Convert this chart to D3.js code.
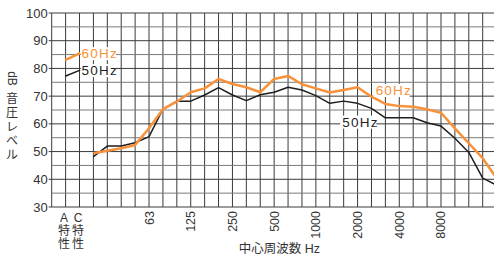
<!DOCTYPE html>
<html>
<head>
<meta charset="utf-8">
<script src="https://cdn.jsdelivr.net/npm/d3@7"></script>
<style>
  body { margin: 0; background: #fff; }
  svg text { font-family: "Liberation Sans", Arial, "Noto Sans CJK JP", sans-serif; fill: #333; }
</style>
</head>
<body>
<div id="chart"></div>
<script>
// 1/3 octave bands, index 0 is the left axis
const bands = ['', 'A', 'C', '25', '31.5', '40', '50', '63', '80', '100', '125', '160', '200', '250',
  '315', '400', '500', '630', '800', '1000', '1250', '1600', '2000', '2500', '3150', '4000',
  '5000', '6300', '8000', '10000', '12500', '16000', '20000'];
const curveBands = bands.slice(3);
const tickBands = ['63', '125', '250', '500', '1000', '2000', '4000', '8000'];
const yTicks = [30, 40, 50, 60, 70, 80, 90, 100];

const level50 = [48.2, 52, 52, 53.2, 55.4, 65.3, 68.2, 68.2, 70.4, 73.1, 70.4, 68.4, 70.5, 71.4, 73.2,
  72.2, 70.2, 67.4, 68.2, 67.4, 65.6, 62.2, 62.2, 62.2, 60.4, 59.2, 54.8, 49.7, 40.4, 37.9];
const level60 = [49.4, 50.3, 51.2, 52.4, 58.4, 65.3, 68, 71.4, 72.8, 76.2, 74.4, 73.2, 71.4, 76.2, 77.3,
  74.3, 72.8, 71.3, 72.2, 73.2, 69.8, 67.2, 66.4, 66.2, 65.3, 64, 58.4, 53, 47.6, 40.4];

const orange = '#f7923a';
const dark = '#1e1e1e';

const svg = d3.select('#chart').append('svg')
  .attr('width', 494)
  .attr('height', 260);

const x = d3.scaleLinear().domain([0, bands.length - 1]).range([51.7, 496.6]);
const y = d3.scaleLinear().domain([30, 100]).range([207, 13]);
const bx = b => x(bands.indexOf(b));

//grid
const grid = svg.append('g');
grid.selectAll('line.v').data(d3.range(bands.length))
  .join('line')
  .attr('x1', d => x(d)).attr('x2', d => x(d))
  .attr('y1', y(30)).attr('y2', y(100))
  .attr('stroke', '#3a3a3a')
  .attr('stroke-width', 1);
grid.selectAll('line.h').data(d3.range(30, 101, 5))
  .join('line')
  .attr('x1', x(0)).attr('x2', x(bands.length - 1))
  .attr('y1', d => y(d)).attr('y2', d => y(d))
  .attr('stroke', d => d % 10 === 0 ? '#3a3a3a' : '#7a7a7a')
  .attr('stroke-width', 1);

//y axis
svg.selectAll('line.ytick').data(yTicks)
  .join('line')
  .attr('x1', x(0) - 3).attr('x2', x(0))
  .attr('y1', d => y(d)).attr('y2', d => y(d))
  .attr('stroke', '#3a3a3a');
svg.selectAll('text.ylab').data(yTicks)
  .join('text')
  .attr('x', x(0) - 4)
  .attr('y', d => y(d) + 4.5)
  .attr('text-anchor', 'end')
  .attr('font-size', 13)
  .text(d => d);

//y title, vertical writing
const yTitle = ['音', '圧', 'レ', 'ベ', 'ル'];
svg.append('text')
  .attr('transform', 'translate(8,78.5) rotate(90)')
  .attr('text-anchor', 'middle')
  .attr('font-size', 12)
  .text('dB');
svg.selectAll('text.yt').data(yTitle)
  .join('text')
  .attr('x', 12)
  .attr('y', (d, i) => 102.5 + i * 14)
  .attr('text-anchor', 'middle')
  .attr('font-size', 12)
  .text(d => d);

//x tick labels
svg.selectAll('text.xlab').data(tickBands)
  .join('text')
  .attr('transform', d => `translate(${bx(d) + 4.5},211) rotate(-90)`)
  .attr('text-anchor', 'end')
  .attr('font-size', 12.5)
  .text(d => d);

const weight = ['A', 'C'];
weight.forEach(w => {
  [w, '特', '性'].forEach((ch, i) => {
    svg.append('text')
      .attr('x', bx(w) - 1.5)
      .attr('y', 222 + i * 13)
      .attr('text-anchor', 'middle')
      .attr('font-size', 12)
      .text(ch);
  });
});

svg.append('text')
  .attr('x', 320)
  .attr('y', 253)
  .attr('text-anchor', 'end')
  .attr('font-size', 12.5)
  .text('中心周波数 Hz');

//curves
const line = d3.line()
  .x((d, i) => bx(curveBands[i]))
  .y(d => y(d));

svg.append('path').datum(level50)
  .attr('d', line)
  .attr('fill', 'none')
  .attr('stroke', dark)
  .attr('stroke-width', 1.5)
  .attr('stroke-linejoin', 'round');
svg.append('path').datum(level60)
  .attr('d', line)
  .attr('fill', 'none')
  .attr('stroke', orange)
  .attr('stroke-width', 2.5)
  .attr('stroke-linejoin', 'round');

//legend
const legend = [
  {name: '60Hz', color: orange, width: 2.5, y0: 83, y1: 85.5},
  {name: '50Hz', color: dark, width: 1.5, y0: 77.2, y1: 79.4}
];
legend.forEach(l => {
  svg.append('line')
    .attr('x1', x(1) - 0.5).attr('x2', x(2.05))
    .attr('y1', y(l.y0)).attr('y2', y(l.y1))
    .attr('stroke', l.color)
    .attr('stroke-width', l.width);
  svg.append('rect')
    .attr('x', x(2.1)).attr('y', y(l.y1) - 6)
    .attr('width', 35).attr('height', 13)
    .attr('fill', '#fff');
  svg.append('text')
    .attr('x', x(2.15))
    .attr('y', y(l.y1) + 5)
    .attr('font-size', 13.5)
    .attr('letter-spacing', 1.2)
    .style('fill', l.color)
    .text(l.name);
});

//in-plot labels
const tags = [
  {name: '60Hz', color: orange, at: 23.3, v: 70.4},
  {name: '50Hz', color: dark, at: 20.9, v: 59}
];
tags.forEach(t => {
  svg.append('rect')
    .attr('x', x(t.at) - 2).attr('y', y(t.v) - 11)
    .attr('width', 36).attr('height', 13)
    .attr('fill', '#fff');
  svg.append('text')
    .attr('x', x(t.at))
    .attr('y', y(t.v))
    .attr('font-size', 13.5)
    .attr('letter-spacing', 1.2)
    .style('fill', t.color)
    .text(t.name);
});
</script>
</body>
</html>
